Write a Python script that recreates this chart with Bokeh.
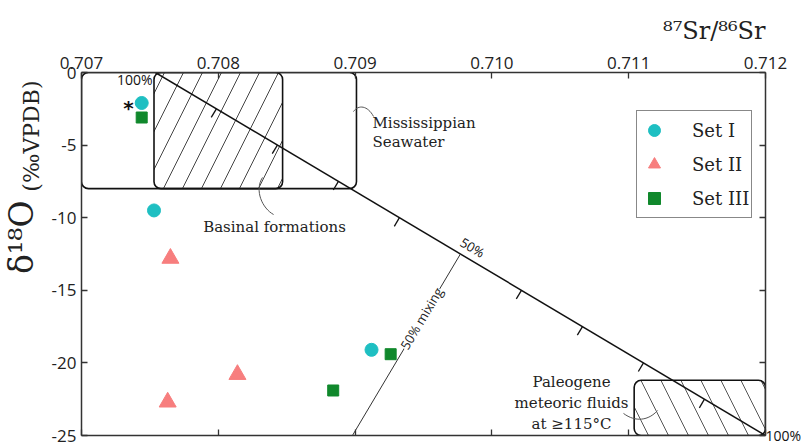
import math
from bokeh.plotting import figure
from bokeh.models import (LinearAxis, FixedTicker, PrintfTickFormatter, Label,
                          Legend, LegendItem, Range1d, Title)
from bokeh.core.properties import value
from bokeh.embed import file_html
from bokeh.resources import INLINE

# ---------------- data ----------------
set1_sr = [0.70744, 0.70753, 0.70912]
set1_d18o = [-2.1, -9.5, -19.1]
set2_sr = [0.70765, 0.70814, 0.70763]
set2_d18o = [-12.8, -20.8, -22.7]
set3_sr = [0.70744, 0.70926, 0.70884]
set3_d18o = [-3.1, -19.4, -21.9]

x_ticks = [0.707, 0.708, 0.709, 0.710, 0.711, 0.712]
y_ticks = [0, -5, -10, -15, -20, -25]

# reservoir fields
miss_box = dict(left=[0.707], right=[0.70901], top=[0.0], bottom=[-8.0])
basin_box = dict(left=[0.70753], right=[0.70847], top=[0.0], bottom=[-8.0])
paleo_box = dict(left=[0.71104], right=[0.712], top=[-21.2], bottom=[-25.0])

# mixing line (100% basinal -> 100% Paleogene meteoric fluid)
mix_start = (0.70754, 0.0)
mix_end = (0.712, -25.0)
mix_fracs = [0.1, 0.2, 0.3, 0.4, 0.6, 0.7, 0.8, 0.9, 1.0]

# leader curves: x0, y0, x1, y1, cx0, cy0, cx1, cy1
leader_x0 = [0.708988, 0.708323, 0.710962]
leader_y0 = [-2.69, -7.23, -23.48]
leader_x1 = [0.709135, 0.708404, 0.711211]
leader_y1 = [-3.03, -9.78, -23.28]
leader_cx0 = [0.709025, 0.708262, 0.711050]
leader_cy0 = [-2.20, -8.13, -24.10]
leader_cx1 = [0.709091, 0.708323, 0.711145]
leader_cy1 = [-2.27, -9.37, -23.97]

X0, X1 = 0.707, 0.712
Y0, Y1 = -25.0, 0.0
W, H = 804, 445
ML, MR, MT, MB = 81, 39, 72, 10
FW, FH = W - ML - MR, H - MT - MB
kx = FW / (X1 - X0)
ky = FH / (Y1 - Y0)

SERIF = "DejaVu Serif"
SANS = "Open Sans"
AX_COL = "#333333"
TXT = "#222222"

p = figure(width=W, height=H, output_backend="svg", toolbar_location=None,
           x_range=Range1d(X0, X1), y_range=Range1d(Y0, Y1),
           x_axis_location="above", min_border_left=ML, min_border_right=MR,
           min_border_top=MT, min_border_bottom=MB,
           title="\u2078\u2077Sr/\u2078\u2076Sr", title_location="above")
p.grid.visible = False
p.outline_line_color = None
p.background_fill_color = "white"
p.border_fill_color = "white"
p.title.align = "right"
p.title.text_font = SERIF
p.title.text_font_size = "24px"
p.title.text_font_style = "normal"
p.title.text_color = TXT
p.title.standoff = 17

def style_axis(ax):
    ax.axis_line_color = AX_COL
    ax.axis_line_width = 1.5
    ax.major_tick_line_color = AX_COL
    ax.major_tick_line_width = 1.3
    ax.major_tick_in = 6
    ax.major_tick_out = 0
    ax.minor_tick_line_color = None
    ax.major_label_text_font = SANS
    ax.major_label_text_font_size = "17px"
    ax.major_label_text_color = TXT

xa = p.xaxis[0]
xa.ticker = FixedTicker(ticks=x_ticks)
xa.formatter = PrintfTickFormatter(format="%.3f")
style_axis(xa)
xa.major_label_standoff = 4

ya = p.yaxis[0]
ya.ticker = FixedTicker(ticks=y_ticks)
ya.formatter = PrintfTickFormatter(format="%d")
style_axis(ya)
ya.major_label_standoff = 5

# lower axis: ticks only
xb = LinearAxis(ticker=FixedTicker(ticks=x_ticks))
style_axis(xb)
xb.major_label_standoff = 0
xb.major_label_overrides = {t: "" for t in x_ticks}
p.add_layout(xb, "below")

# right axis: ticks, plus the "100%" end-member mark at the lower corner
yr = LinearAxis(ticker=FixedTicker(ticks=y_ticks))
style_axis(yr)
yr.major_label_text_font_size = "14px"
yr.major_label_text_color = "#111111"
yr.major_label_standoff = 0
yr.major_label_overrides = {t: "" for t in y_ticks[:-1]}
yr.major_label_overrides[y_ticks[-1]] = "100%"
p.add_layout(yr, "right")

# y axis title in two sizes
t_unit = Title(text="(\u2030VPDB)", align="right", offset=8, standoff=9,
               text_font=SERIF, text_font_size="22px", text_font_style="normal",
               text_color=TXT)
t_delta = Title(text="\u03b4\u00b9\u2078O", align="right", offset=128, standoff=-57,
                text_font=SERIF, text_font_size="33px", text_font_style="normal",
                text_color=TXT)
p.add_layout(t_unit, "left")
p.add_layout(t_delta, "left")

# ---------------- fields ----------------
p.quad(**miss_box, fill_color=None, line_color="#111111", line_width=1.6,
       border_radius=7)
p.quad(**basin_box, fill_color="white", fill_alpha=0, line_color="#111111",
       line_width=1.6, border_radius=7, hatch_pattern="/", hatch_scale=38,
       hatch_weight=1, hatch_color="#444444")
p.quad(**paleo_box, fill_color="white", fill_alpha=0, line_color="#111111",
       line_width=1.6, border_radius=7, hatch_pattern="\\", hatch_scale=40,
       hatch_weight=1, hatch_color="#555555")

# ---------------- mixing line ----------------
p.segment(x0=[mix_start[0]], y0=[mix_start[1]], x1=[mix_end[0]], y1=[mix_end[1]],
          line_color="#111111", line_width=1.5)
dxp = (mix_end[0] - mix_start[0]) * kx
dyp = -(mix_end[1] - mix_start[1]) * ky
ln = math.hypot(dxp, dyp)
ux, uy = dxp / ln, dyp / ln
nx, ny = -uy, ux          # screen normal pointing down-left
TL = 10
tx0 = [mix_start[0] + f * (mix_end[0] - mix_start[0]) for f in mix_fracs]
ty0 = [mix_start[1] + f * (mix_end[1] - mix_start[1]) for f in mix_fracs]
tx1 = [x + nx * TL / kx for x in tx0]
ty1 = [y - ny * TL / ky for y in ty0]
p.segment(x0=tx0, y0=ty0, x1=tx1, y1=ty1, line_color="#111111", line_width=1.3)

# 50% mixing line, perpendicular from 50% point to the lower axis
mx = mix_start[0] + 0.5 * (mix_end[0] - mix_start[0])
my = mix_start[1] + 0.5 * (mix_end[1] - mix_start[1])
tlen = (my - Y0) * ky / ny
p.segment(x0=[mx], y0=[my], x1=[mx + nx * tlen / kx], y1=[Y0],
          line_color="#333333", line_width=1)

ang = math.atan2(dyp, dxp)
p.add_layout(Label(x=0.709858, y=-12.05, text="50%", angle=-ang,
                   text_align="center", text_baseline="middle",
                   text_font=SANS, text_font_size="13px", text_color="#111111"))
p.add_layout(Label(x=0.709485, y=-16.94, text="50% mixing",
                   angle=math.pi / 2 - ang, text_align="center",
                   text_baseline="middle", text_font=SANS,
                   text_font_size="13px", text_color=TXT,
                   background_fill_color="white"))
p.text(x=[0.707519], y=[-0.50], text=["100%"], text_align="right",
       text_baseline="alphabetic", text_font=value(SANS),
       text_font_size="14px", text_color="#111111")

# leader curves
p.bezier(x0=leader_x0, y0=leader_y0, x1=leader_x1, y1=leader_y1,
         cx0=leader_cx0, cy0=leader_cy0, cx1=leader_cx1, cy1=leader_cy1,
         line_color="#555555", line_width=1)

# field labels
p.text(x=[0.709127, 0.709127], y=[-3.45, -4.76], text=["Mississippian", "Seawater"],
       text_align="left", text_baseline="alphabetic", text_font=value(SERIF),
       text_font_size="15px", text_color=TXT)
p.text(x=[0.708411], y=[-10.66], text=["Basinal formations"], text_align="center",
       text_baseline="alphabetic", text_font=value(SERIF), text_font_size="15px",
       text_color=TXT)
p.text(x=[0.710582] * 3, y=[-21.29, -22.74, -24.18],
       text=["Paleogene", "meteoric fluids", "at \u2265115\u00b0C"],
       text_align="center", text_baseline="alphabetic", text_font=value(SERIF),
       text_font_size="15px", text_color=TXT)

# ---------------- samples ----------------
r1 = p.scatter(set1_sr, set1_d18o, marker="circle", size=13,
               fill_color="#1EBFC2", line_color="#1EBFC2")
r2 = p.scatter(set2_sr, set2_d18o, marker="triangle", size=17,
               fill_color="#F77E7E", line_color="#F77E7E")
r3 = p.scatter(set3_sr, set3_d18o, marker="square", size=11,
               fill_color="#10882C", line_color="#10882C")
p.text(x=[0.707344], y=[-2.42], text=["*"], text_align="center",
       text_baseline="alphabetic", text_font=value("DejaVu Sans"),
       text_font_style="bold", text_font_size="20px", text_color="#111111")

legend = Legend(items=[LegendItem(label="Set I", renderers=[r1]),
                       LegendItem(label="Set II", renderers=[r2]),
                       LegendItem(label="Set III", renderers=[r3])],
                location=(555, 217), padding=2, spacing=0, margin=0,
                glyph_width=30, glyph_height=34, label_standoff=23,
                label_width=57, label_text_font=SERIF,
                label_text_font_size="18px", label_text_color=TXT,
                border_line_color="#111111", border_line_width=1.5,
                background_fill_color="white", background_fill_alpha=1)
p.add_layout(legend, "center")

open("out.html", "w").write(file_html(p, INLINE))
